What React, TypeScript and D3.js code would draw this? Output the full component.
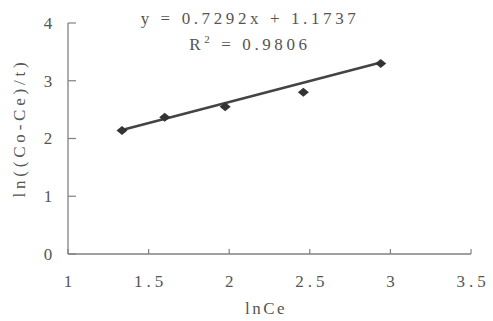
import React from 'react';
import * as d3 from 'd3';

// points
const lnCe = [1.335, 1.6, 1.975, 2.46, 2.94];
const lnRate = [2.14, 2.37, 2.55, 2.8, 3.3];

const xTicks = [1, 1.5, 2, 2.5, 3, 3.5];
const yTicks = [0, 1, 2, 3, 4];

const slope = 0.7292;
const intercept = 1.1737;
const rSquared = '0.9806';

export default function App() {
  const width = 493;
  const height = 321;

  const x = d3.scaleLinear().domain([1, 3.5]).range([68, 471]);
  const y = d3.scaleLinear().domain([0, 4]).range([254, 23]);

  const fitX = d3.extent(lnCe) as [number, number];
  const fitLine = d3.line<number>()
    .x(d => x(d))
    .y(d => y(slope * d + intercept));

  // squat diamond marker like the scanned one
  const diamond = 'M-5.5,0L0,-4.5L5.5,0L0,4.5Z';

  const font = '"Liberation Serif", "DejaVu Serif", serif';
  const textColor = '#555';
  const axisColor = '#808080';
  const txt = { fontFamily: font, fill: textColor, fontSize: 17 };

  return (
    <svg width={width} height={height} style={{ position: 'absolute', left: 0, top: 0, background: '#fff', fontFamily: font }}>
      {/* axes */}
      <line x1={x(1)} x2={x(3.5)} y1={y(0)} y2={y(0)} stroke={axisColor} strokeWidth={1.3} />
      <line x1={x(1)} x2={x(1)} y1={y(0)} y2={y(4)} stroke={axisColor} strokeWidth={1.3} />

      {xTicks.map(t => (
        <g key={'x' + t}>
          <line x1={x(t)} x2={x(t)} y1={y(0)} y2={y(0) - 5} stroke={axisColor} strokeWidth={1.2} />
          <text x={x(t) + (t % 1 ? 2 : 0)} y={287} textAnchor="middle"
            style={{ ...txt, letterSpacing: t % 1 ? 4 : 0 }}>{String(t)}</text>
        </g>
      ))}

      {yTicks.map(t => (
        <g key={'y' + t}>
          <line x1={x(1)} x2={x(1) + 8} y1={y(t)} y2={y(t)} stroke={axisColor} strokeWidth={1.2} />
          <text x={48} y={y(t)} dy="0.35em" textAnchor="middle" style={txt}>{t}</text>
        </g>
      ))}

      {/* trend line */}
      <path d={fitLine(fitX) ?? ''} fill="none" stroke="#444" strokeWidth={2.6} />

      {lnCe.map((v, i) => (
        <path key={i} d={diamond} transform={`translate(${x(v)},${y(lnRate[i])})`} fill="#333" />
      ))}

      {/* regression text */}
      <text x={250} y={24} textAnchor="middle" style={{ ...txt, letterSpacing: 3.6 }}>
        {`y = ${slope}x + ${intercept}`}
      </text>
      <text x={250} y={50} textAnchor="middle" style={{ ...txt, letterSpacing: 3.6 }}>
        R<tspan dy={-7} style={{ fontSize: 11 }}>2</tspan><tspan dy={7}>{` = ${rSquared}`}</tspan>
      </text>

      {/* axis titles */}
      <text x={266} y={314} textAnchor="middle" style={{ ...txt, letterSpacing: 2.5 }}>lnCe</text>
      <text transform={`translate(25,128) rotate(-90)`} textAnchor="middle"
        style={{ ...txt, letterSpacing: 3.8 }}>ln((Co-Ce)/t)</text>
    </svg>
  );
}
